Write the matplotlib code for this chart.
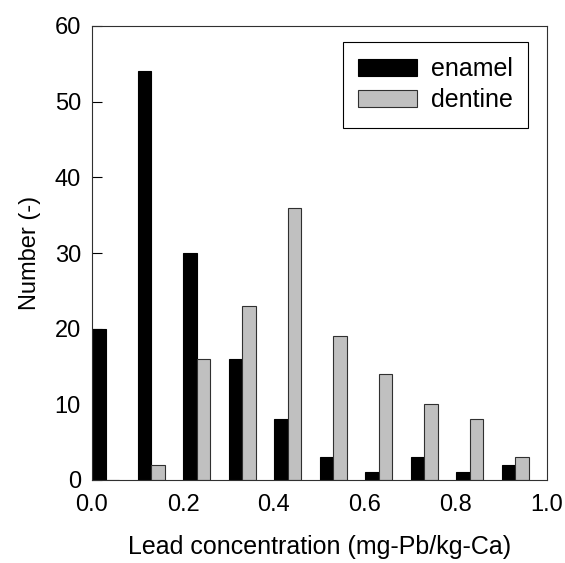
import numpy as np
import matplotlib.pyplot as plt

plt.rcParams['font.family'] = ['Liberation Sans', 'DejaVu Sans']

bins = [0.0, 0.1, 0.2, 0.3, 0.4, 0.5, 0.6, 0.7, 0.8, 0.9]
enamel = [20, 54, 30, 16, 8, 3, 1, 3, 1, 2]
dentine = [0, 2, 16, 23, 36, 19, 14, 10, 8, 3]

x = np.array(bins)
w = 0.03

fig = plt.figure(figsize=(5.65, 5.63), dpi=100)
ax = fig.add_axes([92 / 565, 1 - 480 / 563, 455 / 565, 454 / 563])

ax.bar(x, enamel, width=w, align='edge', color='black', edgecolor='black',
       linewidth=0.8, label='enamel')
ax.bar(x + w, dentine, width=w, align='edge', color='#c0c0c0', edgecolor='#303030',
       linewidth=0.8, label='dentine')

ax.set_xlim(0, 1.0)
ax.set_ylim(0, 60)
ax.set_xticks([0.0, 0.2, 0.4, 0.6, 0.8, 1.0])
ax.set_xticklabels(['0.0', '0.2', '0.4', '0.6', '0.8', '1.0'])
ax.set_yticks([0, 10, 20, 30, 40, 50, 60])
ax.tick_params(axis='x', length=0, labelsize=17, pad=10)
ax.tick_params(axis='y', direction='in', length=7, width=0.8, labelsize=17, pad=8)
for s in ax.spines.values():
    s.set_linewidth(0.8)
    s.set_color('#303030')

ax.set_xlabel('Lead concentration (mg-Pb/kg-Ca)', fontsize=18, labelpad=14)
ax.set_ylabel('Number (-)', fontsize=17, labelpad=10)

leg = ax.legend(loc='upper right', bbox_to_anchor=(0.958, 0.965), fontsize=18,
                fancybox=False, framealpha=1, edgecolor='black',
                borderaxespad=0, handlelength=2.35, handleheight=0.68,
                borderpad=0.62, labelspacing=0.28, handletextpad=0.55)
leg.get_frame().set_linewidth(0.8)

fig.savefig('out.png', dpi=100)
